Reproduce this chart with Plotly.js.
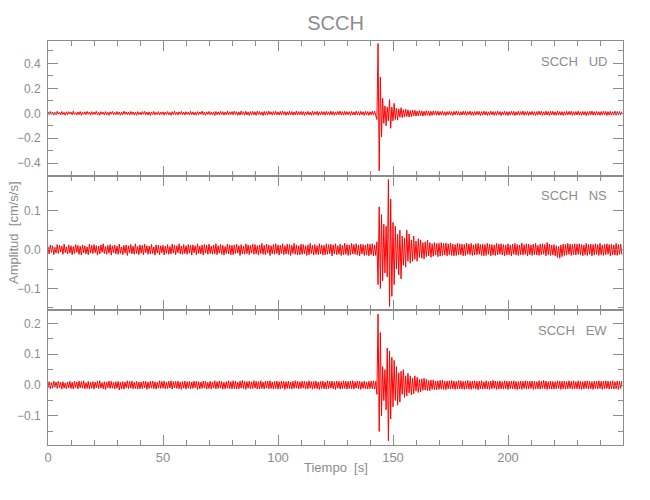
<!DOCTYPE html>
<html>
<head>
<meta charset="utf-8">
<script src="https://cdn.plot.ly/plotly-3.0.1.min.js"></script>
<style>html,body{margin:0;padding:0;background:#fff;}#chart{width:650px;height:500px;}</style>
</head>
<body>
<div id="chart"></div>
<script>
// Sampling: start time and interval (s)
const startTime = 0;
const sampleStep = 0.5;
const station = "SCCH";
const components = ["UD", "NS", "EW"];
const xTicks = [0, 50, 100, 150, 200];

// Vertical component (cm/s/s)
const ampUD = [
.012,-.010,.015,-.008,.011,-.014,.009,-.012,.016,-.007,.010,-.013,.014,-.009,.008,-.015,.012,-.011,.013,-.006,
.010,-.012,.017,-.009,.006,-.013,.011,-.010,.014,-.016,.009,-.008,.012,-.011,.015,-.007,.010,-.014,.013,-.010,
.011,-.009,.016,-.012,.007,-.015,.013,-.008,.010,-.013,.014,-.011,.009,-.016,.012,-.007,.015,-.010,.008,-.012,
.014,-.010,.011,-.015,.009,-.012,.017,-.008,.012,-.011,.010,-.014,.015,-.009,.011,-.013,.008,-.016,.013,-.010,
.009,-.012,.014,-.008,.016,-.011,.010,-.013,.012,-.017,.011,-.009,.015,-.012,.008,-.010,.013,-.014,.010,-.008,
.012,-.015,.011,-.009,.014,-.012,.008,-.016,.013,-.010,.017,-.011,.009,-.013,.012,-.008,.015,-.012,.010,-.014,
.013,-.009,.010,-.014,.016,-.010,.012,-.013,.009,-.015,.014,-.011,.011,-.008,.018,-.012,.010,-.016,.012,-.009,
.015,-.011,.009,-.013,.012,-.017,.014,-.010,.011,-.012,.016,-.009,.013,-.014,.010,-.011,.017,-.013,.012,-.010,
.014,-.012,.018,-.010,.013,-.016,.011,-.014,.019,-.011,.012,-.015,.016,-.012,.010,-.017,.014,-.011,.015,-.013,
.012,-.016,.017,-.010,.014,-.013,.011,-.018,.015,-.012,.013,-.014,.018,-.009,.012,-.015,.014,-.011,.016,-.012,
.011,-.014,.015,-.012,.017,-.010,.013,-.016,.012,-.013,.016,-.011,.014,-.015,.011,-.012,.018,-.014,.013,-.011,
.015,-.012,.013,-.017,.012,-.011,.016,-.014,.010,-.015,.017,-.012,.013,-.010,.015,-.016,.012,-.013,.014,-.011,
.013,-.015,.016,-.011,.012,-.014,.017,-.012,.014,-.016,.011,-.013,.015,-.010,.018,-.014,.012,-.015,.016,-.012,
.014,-.011,.013,-.016,.015,-.013,.011,-.014,.017,-.012,.013,-.015,.016,-.011,.012,-.017,.015,-.013,.014,-.016,
.013,-.012,.016,-.014,.018,-.020,-.050,.560,-.460,.290,-.190,.120,-.080,.060,-.100,.050,-.060,.110,-.120,.050,
-.060,.080,-.050,.040,-.055,.035,-.030,.045,-.035,.028,-.030,.032,-.025,.028,-.030,.022,-.026,.025,-.020,.024,
-.022,.018,-.020,.023,-.017,.019,-.022,.016,-.018,.021,-.015,.017,-.020,.016,-.016,.019,-.014,.018,-.015,.017,
-.016,.014,-.013,.017,-.015,.012,-.018,.014,-.011,.016,-.014,.013,-.017,.015,-.012,.018,-.013,.014,-.016,.012,
-.014,.017,-.012,.015,-.016,.013,-.011,.018,-.015,.012,-.017,.014,-.013,.016,-.012,.015,-.018,.013,-.014,.017,
-.013,.015,-.017,.012,-.014,.018,-.012,.014,-.016,.013,-.015,.017,-.011,.014,-.018,.012,-.013,.016,-.015,.014,
-.017,.013,-.012,.016,-.014,.015,-.018,.012,-.013,.017,-.015,.014,-.012,.018,-.016,.013,-.014,.015,-.017,.012,
-.012,.016,-.015,.013,-.017,.014,-.013,.018,-.012,.015,-.016,.012,-.014,.017,-.013,.014,-.018,.015,-.012,.016,
-.015,.012,-.016,.018,-.013,.014,-.015,.013,-.017,.012,-.014,.016,-.013,.015,-.012,.017,-.016,.013,-.015,.014,
-.013,.017,-.014,.012,-.016,.015,-.012,.014,-.018,.013,-.015,.016,-.012,.018,-.014,.013,-.016,.015,-.013,.012,
-.016,.014,-.013,.017,-.012,.015,-.017,.013,-.014,.016,-.015,.012,-.013,.017,-.016,.014,-.012,.015,-.014,.013
];

// North-south component (cm/s/s)
const ampNS = [
.008,-.011,.012,-.007,.010,-.013,.006,-.009,.013,-.010,.011,-.006,.009,-.012,.014,-.008,.007,-.011,.012,-.009,
.010,-.013,.008,-.010,.013,-.007,.011,-.012,.009,-.014,.012,-.008,.010,-.011,.007,-.013,.014,-.009,.011,-.010,
.013,-.008,.010,-.014,.009,-.011,.012,-.007,.015,-.010,.008,-.012,.011,-.009,.013,-.014,.010,-.008,.012,-.011,
.009,-.012,.014,-.010,.007,-.013,.011,-.009,.012,-.015,.010,-.008,.013,-.011,.009,-.012,.015,-.010,.008,-.013,
.012,-.009,.011,-.013,.014,-.008,.010,-.012,.009,-.011,.013,-.010,.007,-.014,.012,-.009,.011,-.013,.010,-.008,
.011,-.014,.009,-.010,.013,-.012,.008,-.011,.014,-.009,.012,-.013,.010,-.008,.015,-.011,.009,-.012,.013,-.010,
.010,-.012,.013,-.009,.011,-.014,.012,-.008,.010,-.013,.015,-.010,.009,-.011,.012,-.014,.013,-.009,.011,-.012,
.014,-.010,.009,-.012,.012,-.011,.015,-.013,.010,-.009,.013,-.012,.011,-.014,.008,-.010,.014,-.011,.012,-.013,
.011,-.013,.012,-.010,.014,-.009,.010,-.015,.013,-.011,.009,-.012,.015,-.010,.012,-.013,.011,-.009,.014,-.012,
.013,-.011,.010,-.014,.012,-.010,.016,-.012,.011,-.013,.014,-.009,.012,-.015,.010,-.011,.013,-.012,.015,-.010,
.012,-.014,.011,-.010,.015,-.013,.010,-.011,.014,-.012,.013,-.015,.011,-.010,.016,-.012,.012,-.014,.010,-.013,
.014,-.012,.013,-.011,.010,-.015,.012,-.013,.016,-.010,.011,-.014,.013,-.012,.010,-.013,.015,-.011,.012,-.014,
.011,-.013,.015,-.012,.013,-.010,.014,-.016,.012,-.011,.015,-.013,.010,-.012,.014,-.015,.011,-.013,.016,-.012,
.013,-.015,.012,-.014,.016,-.011,.013,-.012,.015,-.014,.012,-.016,.014,-.011,.013,-.015,.012,-.014,.015,-.016,
.014,-.013,.015,-.016,.012,-.015,.020,-.090,.110,-.100,.090,-.080,.065,-.060,.060,-.070,.180,-.146,.130,-.120,
.070,-.090,.060,-.050,.040,-.065,.050,-.075,.035,-.040,.030,-.045,.050,-.030,.040,-.035,.025,-.030,.035,-.025,
.022,-.030,.028,-.020,.025,-.022,.018,-.024,.020,-.018,.024,-.016,.018,-.020,.015,-.017,.018,-.014,.016,-.018,
.016,-.017,.018,-.015,.016,-.014,.017,-.016,.015,-.013,.017,-.015,.014,-.016,.013,-.015,.016,-.014,.015,-.013,
.014,-.016,.013,-.015,.017,-.012,.014,-.013,.016,-.015,.012,-.014,.015,-.013,.016,-.012,.013,-.015,.014,-.016,
.013,-.015,.016,-.012,.014,-.016,.013,-.014,.012,-.015,.016,-.013,.014,-.012,.015,-.014,.013,-.016,.012,-.014,
.015,-.013,.012,-.016,.014,-.012,.016,-.014,.013,-.015,.012,-.013,.017,-.014,.013,-.012,.015,-.016,.014,-.013,
.012,-.015,.014,-.013,.016,-.014,.011,-.015,.014,-.013,.015,-.012,.013,-.016,.018,-.013,.014,-.015,.012,-.014,
.013,-.016,.010,-.020,.008,-.022,.012,-.018,.014,-.015,.013,-.014,.016,-.012,.014,-.015,.013,-.013,.015,-.014,
.014,-.012,.015,-.014,.013,-.016,.012,-.013,.016,-.015,.013,-.012,.014,-.016,.013,-.014,.015,-.012,.013,-.015,
.016,-.013,.012,-.015,.014,-.013,.015,-.012,.013,-.016,.014,-.013,.012,-.014,.016,-.015,.013,-.012,.014,-.013
];

// East-west component (cm/s/s)
const ampEW = [
-.009,.011,-.012,.008,-.010,.013,-.007,.010,-.011,.012,-.008,.009,-.013,.011,-.010,.007,-.012,.010,-.009,.012,
-.011,.009,-.013,.012,-.008,.010,-.012,.013,-.009,.011,-.010,.014,-.012,.008,-.011,.012,-.013,.009,-.010,.011,
-.013,.010,-.009,.012,-.011,.014,-.010,.008,-.012,.011,-.014,.010,-.009,.013,-.011,.012,-.010,.009,-.013,.011,
-.010,.012,-.016,.009,-.012,.011,-.013,.010,-.009,.014,-.011,.012,-.010,.013,-.012,.009,-.011,.012,-.013,.010,
-.012,.010,-.011,.013,-.009,.012,-.014,.010,-.011,.012,-.010,.013,-.012,.011,-.013,.009,-.010,.014,-.011,.012,
-.010,.013,-.012,.009,-.011,.012,-.010,.014,-.013,.011,-.009,.012,-.011,.013,-.012,.010,-.014,.011,-.010,.013,
-.013,.011,-.010,.012,-.012,.010,-.011,.013,-.009,.012,-.014,.011,-.012,.010,-.011,.013,-.010,.012,-.013,.009,
-.011,.012,-.013,.010,-.010,.014,-.012,.011,-.011,.013,-.010,.012,-.013,.009,-.012,.011,-.010,.014,-.012,.011,
-.012,.014,-.011,.012,-.013,.010,-.012,.013,-.010,.015,-.011,.012,-.014,.011,-.010,.013,-.012,.010,-.011,.014,
-.010,.012,-.013,.011,-.012,.014,-.011,.010,-.013,.012,-.010,.013,-.012,.014,-.011,.010,-.013,.012,-.011,.013,
-.013,.011,-.012,.013,-.010,.012,-.014,.011,-.011,.013,-.012,.010,-.013,.012,-.011,.014,-.010,.012,-.012,.011,
-.011,.013,-.010,.012,-.013,.011,-.012,.014,-.010,.011,-.013,.012,-.011,.013,-.012,.010,-.014,.012,-.011,.013,
-.012,.010,-.013,.014,-.011,.012,-.010,.013,-.012,.011,-.014,.013,-.010,.012,-.013,.011,-.012,.014,-.011,.012,
-.013,.012,-.011,.013,-.012,.014,-.013,.011,-.010,.013,-.012,.012,-.014,.011,-.011,.013,-.012,.010,-.013,.012,
-.011,.013,-.012,.014,-.013,.012,-.030,.230,-.150,.170,-.100,.060,-.050,.050,-.080,.120,-.180,.110,-.110,.090,
-.070,.080,-.050,.060,-.065,.040,-.055,.045,-.030,.050,-.040,.030,-.035,.038,-.025,.030,-.032,.022,-.028,.030,
-.020,.025,-.024,.018,-.022,.020,-.017,.022,-.016,.019,-.018,.015,-.018,.016,-.014,.017,-.015,.013,-.015,.014,
-.014,.015,-.013,.016,-.014,.012,-.015,.013,-.012,.014,-.013,.015,-.012,.013,-.014,.012,-.013,.015,-.012,.014,
-.013,.012,-.014,.013,-.012,.015,-.013,.012,-.014,.013,-.011,.014,-.013,.012,-.015,.013,-.012,.014,-.013,.011,
-.012,.014,-.013,.011,-.014,.013,-.012,.015,-.011,.013,-.014,.012,-.013,.014,-.012,.011,-.013,.014,-.012,.013,
-.014,.012,-.011,.013,-.012,.014,-.013,.012,-.015,.011,-.012,.013,-.014,.012,-.011,.014,-.013,.012,-.012,.013,
-.011,.013,-.014,.012,-.013,.011,-.012,.014,-.013,.012,-.011,.015,-.012,.013,-.014,.011,-.012,.013,-.013,.012,
-.013,.011,-.012,.014,-.011,.013,-.014,.012,-.012,.013,-.013,.011,-.012,.014,-.011,.012,-.013,.014,-.012,.011,
-.012,.014,-.013,.012,-.014,.011,-.012,.013,-.011,.014,-.013,.012,-.012,.011,-.014,.013,-.011,.012,-.013,.014,
-.011,.012,-.014,.013,-.012,.014,-.011,.013,-.013,.012,-.012,.014,-.013,.011,-.012,.013,-.014,.012,-.011,.013
];

const series = [ampUD, ampNS, ampEW];
const gray = '#8c8c8c';
const FONT = '"Liberation Sans Narrow", "Liberation Sans", sans-serif';

const traces = series.map((arr, k) => ({
  type: 'scatter', mode: 'lines',
  x0: startTime, dx: sampleStep, y: arr,
  xaxis: k === 0 ? 'x' : 'x' + (k + 1),
  yaxis: k === 0 ? 'y' : 'y' + (k + 1),
  line: {color: '#ff0000', width: 1},
  hoverinfo: 'skip', showlegend: false
}));

function xAxis(anchor, labels) {
  return {
    domain: [0, 1], range: [0, 250], anchor: anchor,
    tickmode: 'array', tickvals: xTicks, ticktext: xTicks.map(String),
    ticks: 'inside', ticklen: 10, tickwidth: 1, tickcolor: gray,
    minor: {dtick: 10, tick0: 0, ticks: 'inside', ticklen: 5, tickcolor: gray, showgrid: false},
    showline: true, linecolor: gray, linewidth: 1, mirror: 'ticks',
    showgrid: false, zeroline: false, showticklabels: labels,
    tickfont: {family: FONT, size: 13, color: gray}
  };
}
function yAxis(anchor, domain, range, dtick, minor) {
  return {
    domain: domain, range: range, anchor: anchor,
    tick0: 0, dtick: dtick, tickformat: '.1f',
    ticks: 'inside', ticklen: 10, tickwidth: 1, tickcolor: gray,
    minor: {dtick: minor, tick0: 0, ticks: 'inside', ticklen: 5, tickcolor: gray, showgrid: false},
    showline: true, linecolor: gray, linewidth: 1, mirror: 'ticks',
    showgrid: false, zeroline: false, ticklabelstandoff: 4,
    tickfont: {family: FONT, size: 12, color: gray}
  };
}

const third = 1 / 3;
const layout = {
  width: 650, height: 500,
  margin: {l: 48, r: 27, t: 41, b: 55},
  paper_bgcolor: '#fff', plot_bgcolor: '#fff',
  font: {family: FONT, color: gray},
  title: {text: station, x: 0.5, xref: 'paper', y: 1 - 23 / 500, yanchor: 'middle',
          font: {family: FONT, size: 20, color: gray}},
  xaxis: xAxis('y', false),
  xaxis2: xAxis('y2', false),
  xaxis3: xAxis('y3', true),
  yaxis: yAxis('x', [2 * third, 1], [-0.50, 0.58], 0.2, 0.1),
  yaxis2: yAxis('x2', [third, 2 * third], [-0.156, 0.19], 0.1, 0.05),
  yaxis3: yAxis('x3', [0, third], [-0.194, 0.242], 0.1, 0.05),
  annotations: components.map((c, k) => ({
    text: station + '\u00a0\u00a0\u00a0' + c,
    xref: 'paper', x: (609 - 48) / 575, xanchor: 'right',
    yref: (k === 0 ? 'y' : 'y' + (k + 1)) + ' domain', y: 0.85, yanchor: 'middle',
    showarrow: false, font: {family: FONT, size: 13, color: gray}
  })).concat([
    {text: 'Amplitud&nbsp;&nbsp;[cm/s/s]', textangle: -90, xref: 'paper', yref: 'paper',
     x: (13 - 48) / 575, y: (445 - 233) / 404, xanchor: 'center', yanchor: 'middle',
     showarrow: false, font: {family: FONT, size: 13, color: gray}},
    {text: 'Tiempo&nbsp;&nbsp;[s]', xref: 'paper', yref: 'paper',
     x: (336 - 48) / 575, y: (445 - 467) / 404, xanchor: 'center', yanchor: 'middle',
     showarrow: false, font: {family: FONT, size: 13, color: gray}}
  ])
};

Plotly.newPlot('chart', traces, layout, {staticPlot: true, displayModeBar: false});
</script>
</body>
</html>
